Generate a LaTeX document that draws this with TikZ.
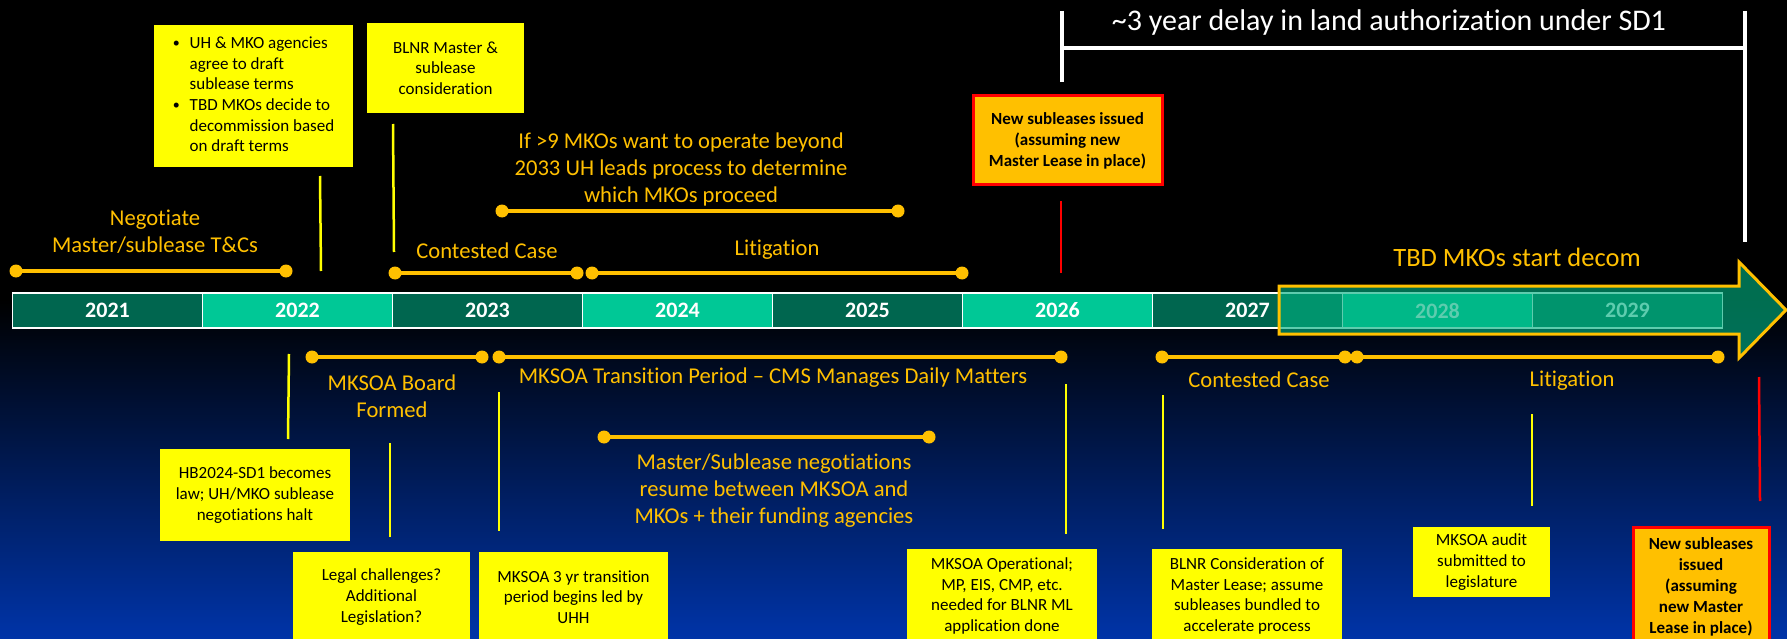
\documentclass[tikz,border=0pt]{standalone}
\usepackage{fontspec}
\setmainfont{Carlito}[Ligatures={NoCommon}]
\definecolor{gold}{RGB}{255,192,0}
\definecolor{yel}{RGB}{255,255,0}
\definecolor{dkgreen}{RGB}{0,102,79}
\definecolor{ltgreen}{RGB}{0,200,150}
\definecolor{arrowgreen}{RGB}{0,175,128}
\definecolor{bgblue}{RGB}{0,52,168}
\definecolor{redln}{RGB}{255,0,0}
\definecolor{orbox}{RGB}{255,192,0}
\newcommand\spanln[4]{%
  \coordinate (#1a) at (#2,#4);
  \coordinate (#1b) at (#3,#4);
  \draw[spanline] (#1a) -- (#1b);
  \fill[gold] (#1a) circle (6.5pt) (#1b) circle (6.5pt);}
\newcommand\bul{\raisebox{0.5pt}{\fontsize{14}{16}\selectfont\textbullet}}
\begin{document}
\begin{tikzpicture}[x=1pt,y=-1pt,
  spanline/.style={gold, line width=3.5pt},
  lbl/.style={text=gold, font=\fontsize{22.6}{27}\selectfont, align=center, inner sep=0pt},
  ybox/.style={fill=yel, text=black, font=\fontsize{17}{20.7}\selectfont, align=center, inner sep=0pt},
  rbox/.style={fill=orbox, draw=redln, line width=3pt, text=black, font=\bfseries\fontsize{17}{21}\selectfont, align=center, inner sep=0pt},
  yconn/.style={yel, line width=2.5pt},
  rconn/.style={redln, line width=2.5pt},
  yearbox/.style={draw=white, line width=1.2pt, minimum width=190pt, minimum height=35pt, inner sep=0pt, text=white, font=\bfseries\fontsize{22}{26}\selectfont},
  decomarrow/.style={fill=arrowgreen, fill opacity=0.63, draw=gold, draw opacity=1, line width=3pt, line join=miter},
  bracket/.style={white, line width=3.5pt}]
\useasboundingbox (0,0) rectangle (1787,639);
\clip (0,0) rectangle (1787,639);
% background
\fill[black] (0,0) rectangle (1787,639);
\shade[top color=black, bottom color=bgblue] (0,300) rectangle (1787,639);

% year bar
\node[yearbox, fill=dkgreen] (y2021) at (107.5,310.5) {2021};
\node[yearbox, fill=ltgreen] (y2022) at (297.5,310.5) {2022};
\node[yearbox, fill=dkgreen] (y2023) at (487.5,310.5) {2023};
\node[yearbox, fill=ltgreen] (y2024) at (677.5,310.5) {2024};
\node[yearbox, fill=dkgreen] (y2025) at (867.5,310.5) {2025};
\node[yearbox, fill=ltgreen] (y2026) at (1057.5,310.5) {2026};
\node[yearbox, fill=dkgreen] (y2027) at (1247.5,310.5) {2027\hspace{18pt}};
\node[yearbox, fill=ltgreen] (y2028) at (1437.5,310.5) {2028};
\node[yearbox, fill=dkgreen] (y2029) at (1627.5,310.5) {2029};

% decom arrow
\draw[decomarrow] (1279,286) -- (1739,286) -- (1739,262) -- (1786,310) -- (1739,358) -- (1739,334) -- (1279,334) -- cycle;
\node[lbl, font=\fontsize{26.5}{30}\selectfont] (decom) at (1517,257) {TBD MKOs start decom};

% delay bracket
\coordinate (brLt) at (1062,11);
\coordinate (brLb) at (1062,82);
\coordinate (brLm) at (1062,48);
\coordinate (brRt) at (1745,11);
\coordinate (brRb) at (1745,242);
\coordinate (brRm) at (1745,48);
\draw[bracket] (brLt) -- (brLb);
\draw[bracket] (brRt) -- (brRb);
\draw[bracket] (brLm) -- (brRm);
\node[text=white, font=\fontsize{30}{35}\selectfont, inner sep=0pt] (delay) at (1389,23) {\textasciitilde3 year delay in land authorization under SD1};

% spans above the bar
\spanln{neg}{16}{286}{271}
\spanln{cc1}{395}{577}{273}
\spanln{lit1}{592}{962}{273}
\spanln{nine}{502}{898}{211}
\node[lbl] (negl) at (155,232) {Negotiate\\Master/sublease T\&Cs};
\node[lbl] (cc1l) at (487,251) {Contested Case};
\node[lbl] (lit1l) at (777,250) {Litigation};
\node[lbl] (ninel) at (681,169) {If >9 MKOs want to operate beyond\\2033 UH leads process to determine\\which MKOs proceed};

% spans below the bar
\spanln{brd}{312}{482}{357}
\spanln{trn}{499}{1061}{357}
\spanln{neg2}{604}{929}{437}
\spanln{cc2}{1162}{1345}{357}
\spanln{lit2}{1357}{1718}{357}
\node[lbl] (brdl) at (392,396) {MKSOA Board\\Formed};
\node[lbl] (trnl) at (773,378) {MKSOA Transition Period – CMS Manages Daily Matters};
\node[lbl] (neg2l) at (774,491) {Master/Sublease negotiations\\resume between MKSOA and\\MKOs + their funding agencies};
\node[lbl] (cc2l) at (1259,380) {Contested Case};
\node[lbl] (lit2l) at (1572,381) {Litigation};

% boxes above
\node[ybox, minimum width=199pt, minimum height=142pt] (bxA) at (253.5,96)
  {\begin{tabular}{@{}l@{\hspace{10pt}}l@{}}\bul & UH \& MKO agencies\\ & agree to draft\\ & sublease terms\\ \bul & TBD MKOs decide to\\ & decommission based\\ & on draft terms\end{tabular}};
\node[ybox, minimum width=157pt, minimum height=90pt] (bxB) at (445.5,68) {BLNR Master \&\\sublease\\consideration};
\node[rbox, minimum width=189pt, minimum height=89pt] (bxJ) at (1067.5,140.5) {New subleases issued\\(assuming new\\Master Lease in place)};

% boxes below
\node[ybox, minimum width=190pt, minimum height=92pt] (bxC) at (255,495) {HB2024-SD1 becomes\\law; UH/MKO sublease\\negotiations halt};
\node[ybox, minimum width=177pt, minimum height=90pt] (bxD) at (381.5,597) {Legal challenges?\\Additional\\Legislation?};
\node[ybox, minimum width=189pt, minimum height=90pt] (bxE) at (573.5,597) {MKSOA 3 yr transition\\period begins led by\\UHH};
\node[ybox, minimum width=190pt, minimum height=94pt] (bxF) at (1002,596) {MKSOA Operational;\\MP, EIS, CMP, etc.\\needed for BLNR ML\\application done};
\node[ybox, minimum width=190pt, minimum height=94pt] (bxG) at (1247,596) {BLNR Consideration of\\Master Lease; assume\\subleases bundled to\\accelerate process};
\node[ybox, minimum width=137pt, minimum height=70pt] (bxH) at (1481.5,562) {MKSOA audit\\submitted to\\legislature};
\node[rbox, minimum width=136pt, minimum height=120pt] (bxI) at (1701,587) {New subleases\\issued\\(assuming\\new Master\\Lease in place)};

% connectors
\coordinate (c1t) at (320,176); \coordinate (c1b) at (321,271);
\coordinate (c2t) at (393,124); \coordinate (c2b) at (394,252);
\coordinate (c3t) at (1061,201); \coordinate (c3b) at (1061,273);
\coordinate (c4t) at (289,354); \coordinate (c4b) at (288,439);
\coordinate (c5t) at (390,443); \coordinate (c5b) at (390,537);
\coordinate (c6t) at (499,392); \coordinate (c6b) at (499,531);
\coordinate (c7t) at (1066,384); \coordinate (c7b) at (1066,534);
\coordinate (c8t) at (1163,395); \coordinate (c8b) at (1163,529);
\coordinate (c9t) at (1532,414); \coordinate (c9b) at (1532,506);
\coordinate (c10t) at (1759,377); \coordinate (c10b) at (1760,501);
\draw[yconn] (c1t) -- (c1b);
\draw[yconn] (c2t) -- (c2b);
\draw[rconn] (c3t) -- (c3b);
\draw[yconn] (c4t) -- (c4b);
\draw[yconn] (c5t) -- (c5b);
\draw[yconn] (c6t) -- (c6b);
\draw[yconn] (c7t) -- (c7b);
\draw[yconn] (c8t) -- (c8b);
\draw[yconn] (c9t) -- (c9b);
\draw[rconn] (c10t) -- (c10b);
\end{tikzpicture}
\end{document}
